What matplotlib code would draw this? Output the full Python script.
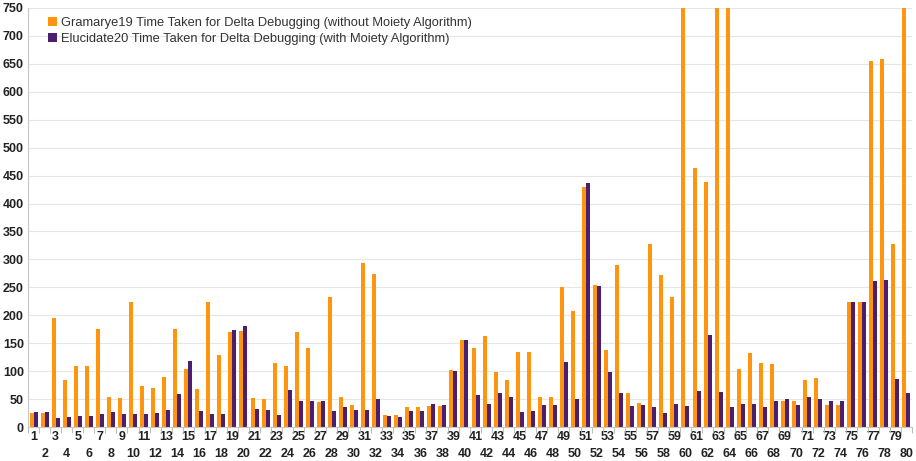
import matplotlib
matplotlib.use("Agg")
import matplotlib.pyplot as plt
import numpy as np
from matplotlib.ticker import MultipleLocator, FixedLocator

plt.rcParams["font.family"] = ["Liberation Sans", "DejaVu Sans"]

categories = list(range(1, 81))

without_moiety = [
    25, 25, 196, 84, 110, 110, 176, 54, 52, 223,
    73, 70, 89, 176, 103, 68, 224, 129, 170, 171,
    52, 51, 114, 110, 170, 141, 45, 232, 54, 39,
    294, 273, 21, 21, 36, 35, 38, 38, 102, 155,
    141, 163, 98, 85, 135, 134, 54, 54, 250, 207,
    430, 255, 137, 290, 61, 43, 327, 272, 233, 900,
    463, 438, 1000, 950, 103, 132, 114, 112, 46, 46,
    84, 87, 40, 39, 223, 224, 655, 658, 327, 980,
]

with_moiety = [
    27, 27, 17, 18, 19, 19, 23, 26, 23, 24,
    24, 25, 30, 59, 118, 29, 24, 24, 174, 180,
    33, 31, 22, 67, 47, 47, 47, 28, 36, 31,
    30, 50, 20, 18, 28, 28, 42, 39, 100, 155,
    57, 42, 61, 54, 27, 28, 39, 40, 116, 51,
    436, 253, 99, 60, 38, 40, 36, 25, 41, 38,
    65, 164, 63, 36, 41, 41, 35, 46, 51, 39,
    53, 50, 47, 46, 224, 224, 262, 264, 86, 61,
]

legend_labels = [
    "Gramarye19 Time Taken for Delta Debugging (without Moiety Algorithm)",
    "Elucidate20 Time Taken for Delta Debugging (with Moiety Algorithm)",
]

orange = "#ff950e"
purple = "#4b1f6f"

fig = plt.figure(figsize=(9.16, 4.61), dpi=100)
ax = fig.add_axes([28 / 916, 34 / 461, 884 / 916, 419 / 461])

x = np.array(categories, dtype=float)
w = 0.36
ax.bar(x - w / 2, without_moiety, width=w, color=orange, label=legend_labels[0], zorder=2)
ax.bar(x + w / 2, with_moiety, width=w, color=purple, label=legend_labels[1], zorder=2)

ax.set_xlim(0.5, 80.5)
ax.set_ylim(0, 750)
ax.yaxis.set_major_locator(MultipleLocator(50))
ax.grid(axis="y", color="#e6e6e6", linewidth=0.8, zorder=0)
ax.set_axisbelow(True)

for s in ["top", "right"]:
    ax.spines[s].set_visible(False)
ax.spines["left"].set_color("#c8c8c8")
ax.spines["bottom"].set_color("#c8c8c8")

odd = [c for c in categories if c % 2 == 1]
even = [c for c in categories if c % 2 == 0]

ax.set_xticks(odd)
ax.set_xticklabels([str(c) for c in odd], fontsize=9, fontweight="bold", color="#222222")
ax.xaxis.set_minor_locator(FixedLocator(np.arange(0.5, 81, 1.0)))
ax.tick_params(axis="x", which="major", length=0, pad=3)
ax.tick_params(axis="x", which="minor", length=4, color="#b0b0b0")

sec = ax.secondary_xaxis("bottom")
sec.set_xticks(even)
sec.set_xticklabels([str(c) for c in even], fontsize=9, fontweight="bold", color="#222222")
sec.tick_params(axis="x", length=0, pad=15)
sec.spines["bottom"].set_visible(False)

ax.tick_params(axis="y", length=0, pad=3, labelsize=9, labelcolor="#222222")
for t in ax.get_yticklabels():
    t.set_fontweight("bold")

leg = ax.legend(loc="upper left", bbox_to_anchor=(0.0226, 0.978), frameon=False,
                fontsize=9.3, handlelength=0.7, handleheight=0.7, handletextpad=0.3,
                labelspacing=0.3, borderaxespad=0, borderpad=0)
for t in leg.get_texts():
    t.set_color("#333333")

fig.savefig("out.png", dpi=100)
